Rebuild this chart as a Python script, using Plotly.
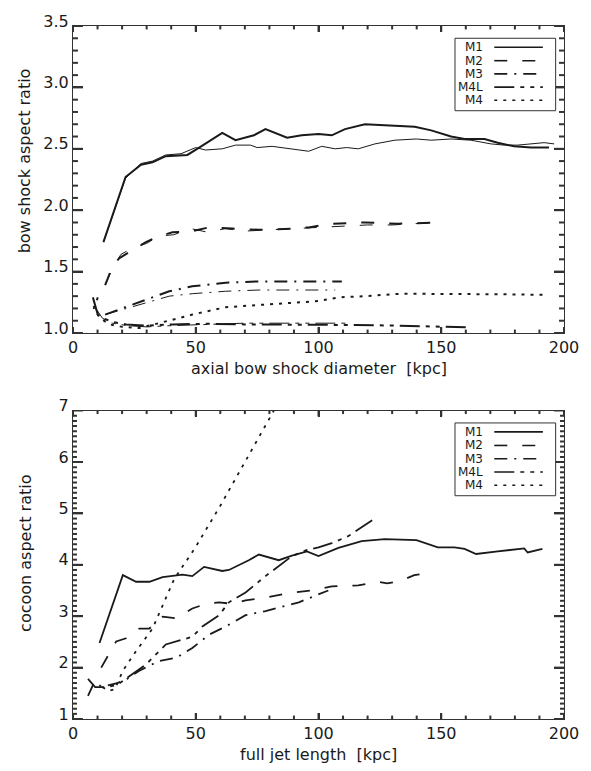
import plotly.graph_objects as go

# ---------------- data: top panel (bow shock aspect ratio) ----------------
NAMES = ["M1", "M2", "M3", "M4L", "M4"]

M1_BOW_X = [12.4, 21.4, 27.7, 32.4, 37.8, 46.6, 51.4, 56, 60.8, 66.2, 73.7, 78.4, 87.2, 93.2, 100,
            105.4, 110.8, 118.9, 129.7, 139.2, 145.9, 154, 159.5, 167.6, 173, 179.7, 186.5, 193.9]
M1_BOW_Y = [1.74, 2.27, 2.37, 2.39, 2.44, 2.45, 2.51, 2.57, 2.63, 2.57, 2.61, 2.66, 2.59, 2.61, 2.62,
            2.61, 2.66, 2.70, 2.69, 2.68, 2.65, 2.60, 2.58, 2.58, 2.55, 2.52, 2.51, 2.51]
M1_BOW_THIN_X = [12.4, 21.4, 27.7, 32.4, 37.8, 44, 50, 54, 60.8, 66.2, 72.3, 75, 81.1, 87.8, 91.9, 96,
                 101.3, 106.8, 111.5, 116.2, 123, 131.1, 139.8, 145.9, 154, 162.1, 170.2, 175.7, 181.1,
                 186.5, 191.9, 196]
M1_BOW_THIN_Y = [1.74, 2.26, 2.38, 2.40, 2.45, 2.46, 2.51, 2.49, 2.50, 2.53, 2.53, 2.51, 2.52, 2.50, 2.49,
                 2.48, 2.52, 2.50, 2.51, 2.50, 2.54, 2.57, 2.58, 2.57, 2.58, 2.57, 2.54, 2.53, 2.53,
                 2.54, 2.55, 2.54]

M2_BOW_X = [13.1, 16.2, 18.9, 23.7, 29.7, 33.8, 40.5, 48.6, 55.4, 64.9, 75.7, 89.2, 96, 105.4, 118.9, 132.4, 150]
M2_BOW_Y = [1.39, 1.55, 1.61, 1.67, 1.74, 1.78, 1.82, 1.83, 1.86, 1.85, 1.84, 1.85, 1.86, 1.89, 1.90, 1.89, 1.90]
M2_BOW_THIN_X = [13.1, 16, 19.5, 24, 30, 35, 41, 48, 55, 62, 70, 80, 90, 100, 110, 120, 130, 140, 148]
M2_BOW_THIN_Y = [1.39, 1.52, 1.64, 1.69, 1.73, 1.79, 1.80, 1.85, 1.82, 1.85, 1.83, 1.84, 1.85, 1.86, 1.87,
                 1.88, 1.88, 1.89, 1.90]

M3_BOW_X = [13.1, 21.6, 29.7, 39.2, 48.6, 62.2, 75.7, 89.2, 100, 109.5]
M3_BOW_Y = [1.15, 1.21, 1.27, 1.34, 1.38, 1.41, 1.42, 1.42, 1.42, 1.42]
M3_BOW_THIN_X = [13.1, 21.6, 29.7, 39.2, 48.6, 62.2, 75.7, 89.2, 100, 106.8]
M3_BOW_THIN_Y = [1.15, 1.20, 1.25, 1.30, 1.32, 1.34, 1.35, 1.35, 1.35, 1.35]

M4L_BOW_X = [8.1, 10.1, 12.2, 16.2, 21.6, 29.7, 40.5, 55, 70, 85, 100, 115, 132.4, 150, 162]
M4L_BOW_Y = [1.29, 1.15, 1.12, 1.09, 1.07, 1.06, 1.07, 1.075, 1.07, 1.07, 1.065, 1.065, 1.06, 1.05, 1.045]
M4L_BOW_THIN_X = [8.1, 10, 12, 16, 22, 30, 40, 55, 70, 85, 100, 112]
M4L_BOW_THIN_Y = [1.22, 1.18, 1.12, 1.08, 1.06, 1.05, 1.06, 1.07, 1.08, 1.08, 1.08, 1.08]

M4_BOW_X = [10.1, 8.5, 11, 15, 20, 27, 35, 48.6, 62.2, 75.7, 91.9, 100, 108.1, 118.9, 133.8, 145.9,
            159.5, 175, 193.2]
M4_BOW_Y = [1.29, 1.20, 1.12, 1.07, 1.05, 1.04, 1.08, 1.15, 1.21, 1.23, 1.25, 1.26, 1.29, 1.30, 1.32, 1.32,
            1.32, 1.315, 1.31]

# ---------------- data: bottom panel (cocoon aspect ratio) ----------------
M1_COC_X = [10.8, 20.3, 25.7, 31.1, 36.5, 44.6, 48.6, 53.4, 60.8, 63.5, 71.6, 75.7, 83.8, 89.2, 95.3, 100,
            108.1, 117.6, 127, 139.9, 148.6, 155.4, 159.5, 164.2, 173, 183.8, 185.2, 191.2]
M1_COC_Y = [2.48, 3.80, 3.67, 3.67, 3.76, 3.81, 3.78, 3.96, 3.88, 3.90, 4.09, 4.20, 4.09, 4.18, 4.26, 4.17,
            4.33, 4.46, 4.50, 4.48, 4.34, 4.34, 4.31, 4.21, 4.26, 4.32, 4.24, 4.31]

M2_COC_X = [11.5, 17.6, 21.6, 27, 31.1, 36.5, 41.9, 48.6, 54.1, 59.5, 64.9, 70.3, 75.7, 82.4, 89.2, 97.3,
            105.4, 116.2, 124, 128, 133, 139, 142]
M2_COC_Y = [2.0, 2.51, 2.57, 2.76, 2.76, 2.99, 2.96, 3.15, 3.24, 3.27, 3.24, 3.31, 3.34, 3.40, 3.46, 3.50,
            3.58, 3.60, 3.67, 3.64, 3.68, 3.80, 3.82]

M3_COC_X = [6.1, 8.5, 12, 18, 22, 27, 35.1, 42, 48.6, 55.4, 62.2, 70.3, 78.4, 86.5, 92, 98.7, 104]
M3_COC_Y = [1.45, 1.70, 1.63, 1.70, 1.78, 1.94, 2.13, 2.19, 2.38, 2.64, 2.80, 3.02, 3.10, 3.21, 3.27, 3.40, 3.50]

M4L_COC_X = [6.1, 9, 13, 18, 22, 29.7, 37.8, 48.6, 52.7, 59.5, 63.5, 70.3, 78.4, 83.8, 89.2, 95.3, 100,
             105.4, 112.2, 122.3]
M4L_COC_Y = [1.78, 1.62, 1.62, 1.66, 1.80, 2.06, 2.45, 2.60, 2.80, 3.02, 3.27, 3.46, 3.78, 3.97, 4.17, 4.29,
             4.34, 4.42, 4.56, 4.88]

M4_COC_X = [12, 14.5, 17, 20.3, 25.7, 32.4, 41.2, 50, 60, 70, 81.1, 83]
M4_COC_Y = [1.62, 1.55, 1.58, 1.94, 2.32, 2.76, 3.72, 4.35, 5.15, 6.0, 6.94, 7.1]

X_TICKS = [0, 50, 100, 150, 200]
Y1_TICKS = [1.0, 1.5, 2.0, 2.5, 3.0, 3.5]
Y2_TICKS = [1, 2, 3, 4, 5, 6, 7]
X_MINOR_PER_MAJOR = 5     # minor tick every 10 kpc
Y1_MINOR_PER_MAJOR = 5    # minor tick every 0.1
Y2_MINOR_PER_MAJOR = 10   # minor tick every 0.1

# ---------------- styling ----------------
DASHES = ["solid", "13px,15px", "13px,7px,2px,7px", "20px,6px,4px,6px,4px,6px", "3px,6px"]
INK = "#1a1a1a"
AXC = "#333333"
TICK_W = 2
FONT = "DejaVu Sans"

W, H = 591, 771
MARGIN = dict(l=73, r=24, t=13, b=52)
TOP_DOM = [0.557, 1.0]
BOT_DOM = [0.0, 0.445]
PLOT_W = W - MARGIN["l"] - MARGIN["r"]
PLOT_H = H - MARGIN["t"] - MARGIN["b"]

fig = go.Figure()

top_sets = [
    (M1_BOW_X, M1_BOW_Y, M1_BOW_THIN_X, M1_BOW_THIN_Y),
    (M2_BOW_X, M2_BOW_Y, M2_BOW_THIN_X, M2_BOW_THIN_Y),
    (M3_BOW_X, M3_BOW_Y, M3_BOW_THIN_X, M3_BOW_THIN_Y),
    (M4L_BOW_X, M4L_BOW_Y, M4L_BOW_THIN_X, M4L_BOW_THIN_Y),
    (M4_BOW_X, M4_BOW_Y, None, None),
]
for name, dash, (xs, ys, xt, yt) in zip(NAMES, DASHES, top_sets):
    fig.add_trace(go.Scatter(x=xs, y=ys, mode="lines", name=name, showlegend=False,
                             line=dict(color=INK, width=2, dash=dash), xaxis="x", yaxis="y"))
    if xt is not None:
        fig.add_trace(go.Scatter(x=xt, y=yt, mode="lines", name=name, showlegend=False,
                                 line=dict(color=INK, width=1, dash=dash), xaxis="x", yaxis="y"))

bot_sets = [(M1_COC_X, M1_COC_Y), (M2_COC_X, M2_COC_Y), (M3_COC_X, M3_COC_Y),
            (M4L_COC_X, M4L_COC_Y), (M4_COC_X, M4_COC_Y)]
for name, dash, (xs, ys) in zip(NAMES, DASHES, bot_sets):
    fig.add_trace(go.Scatter(x=xs, y=ys, mode="lines", name=name, showlegend=False,
                             line=dict(color=INK, width=1.8, dash=dash), xaxis="x2", yaxis="y2"))


def xaxis(anchor):
    return dict(range=[X_TICKS[0], X_TICKS[-1]], tickmode="linear", tick0=X_TICKS[0],
                dtick=X_TICKS[1] - X_TICKS[0],
                ticks="inside", ticklen=6, tickcolor=AXC, tickwidth=TICK_W,
                showline=True, linecolor=AXC, linewidth=1, mirror="ticks",
                showgrid=False, zeroline=False, anchor=anchor,
                tickfont=dict(family=FONT, size=16, color=INK))


def yaxis(tv, fmt, domain, anchor):
    return dict(range=[tv[0], tv[-1]], tickmode="linear", tick0=tv[0], dtick=tv[1] - tv[0],
                tickformat=fmt,
                ticks="inside", ticklen=10, tickcolor=AXC, tickwidth=TICK_W,
                showline=True, linecolor=AXC, linewidth=1, mirror="ticks",
                showgrid=False, zeroline=False, domain=domain, anchor=anchor,
                ticklabelshift=-5,
                tickfont=dict(family=FONT, size=16, color=INK))


fig.update_layout(
    width=W, height=H,
    margin=MARGIN,
    paper_bgcolor="white", plot_bgcolor="white",
    showlegend=False,
    font=dict(family=FONT, size=15, color=INK),
    xaxis=xaxis("y"),
    yaxis=yaxis(Y1_TICKS, ".1f", TOP_DOM, "x"),
    xaxis2=xaxis("y2"),
    yaxis2=yaxis(Y2_TICKS, "d", BOT_DOM, "x2"),
)


# IDL-style tick marks on all four sides (major + minor), placed at the axis values
def tick_positions(ticks, n_minor):
    major = list(ticks)
    minor = []
    for a, b in zip(ticks[:-1], ticks[1:]):
        step = (b - a) / n_minor
        minor += [a + k * step for k in range(1, n_minor)]
    return major, minor


def add_ticks(xr, yr, y_ticks, y_minor_n, dom, y_minor_len):
    panel_h = PLOT_H * (dom[1] - dom[0])
    xmaj, xmin = tick_positions(X_TICKS, X_MINOR_PER_MAJOR)
    ymaj, ymin = tick_positions(y_ticks, y_minor_n)
    line = dict(color=AXC, width=TICK_W)
    for vals, ln in [(xmaj, 6), (xmin, 3.5)]:
        f = ln / panel_h
        for v in vals:
            fig.add_shape(type="line", xref=xr, yref=yr + " domain", x0=v, x1=v, y0=0, y1=f,
                          line=line, layer="above")
            fig.add_shape(type="line", xref=xr, yref=yr + " domain", x0=v, x1=v, y0=1, y1=1 - f,
                          line=line, layer="above")
    for vals, ln in [(ymaj, 10), (ymin, y_minor_len)]:
        f = ln / PLOT_W
        for v in vals:
            fig.add_shape(type="line", xref=xr + " domain", yref=yr, x0=0, x1=f, y0=v, y1=v,
                          line=line, layer="above")
            fig.add_shape(type="line", xref=xr + " domain", yref=yr, x0=1, x1=1 - f, y0=v, y1=v,
                          line=line, layer="above")


add_ticks("x", "y", Y1_TICKS, Y1_MINOR_PER_MAJOR, TOP_DOM, 5)
add_ticks("x2", "y2", Y2_TICKS, Y2_MINOR_PER_MAJOR, BOT_DOM, 4)

# axis titles
titles = [
    dict(text="axial bow shock diameter  [kpc]", x=0.5, y=0.5059, textangle=0),
    dict(text="full jet length  [kpc]", x=0.5, y=-0.051, textangle=0),
    dict(text="bow shock aspect ratio", x=-0.098, y=0.806, textangle=-90),
    dict(text="cocoon aspect ratio", x=-0.098, y=0.2395, textangle=-90),
]
for t in titles:
    fig.add_annotation(text=t["text"], x=t["x"], y=t["y"], xref="paper", yref="paper",
                       xanchor="center", yanchor="middle", showarrow=False, textangle=t["textangle"],
                       font=dict(family=FONT, size=16, color=INK))

# legend boxes drawn like the original (label on the left, line sample on the right)
ROW_Y = [0.931, 0.887, 0.844, 0.801, 0.758]
for xr, yr in [("x domain", "y domain"), ("x2 domain", "y2 domain")]:
    fig.add_shape(type="rect", xref=xr, yref=yr, x0=0.778, x1=0.983, y0=0.724, y1=0.960,
                  line=dict(color=AXC, width=1), fillcolor="white", layer="above")
    for name, dash, ry in zip(NAMES, DASHES, ROW_Y):
        fig.add_annotation(text=name, xref=xr, yref=yr, x=0.839, y=ry, xanchor="right",
                           yanchor="middle", showarrow=False,
                           font=dict(family=FONT, size=12, color=INK))
        fig.add_shape(type="line", xref=xr, yref=yr, x0=0.858, x1=0.957, y0=ry, y1=ry,
                      line=dict(color=INK, width=1.6, dash=dash), layer="above")

fig.write_html("out.html")
